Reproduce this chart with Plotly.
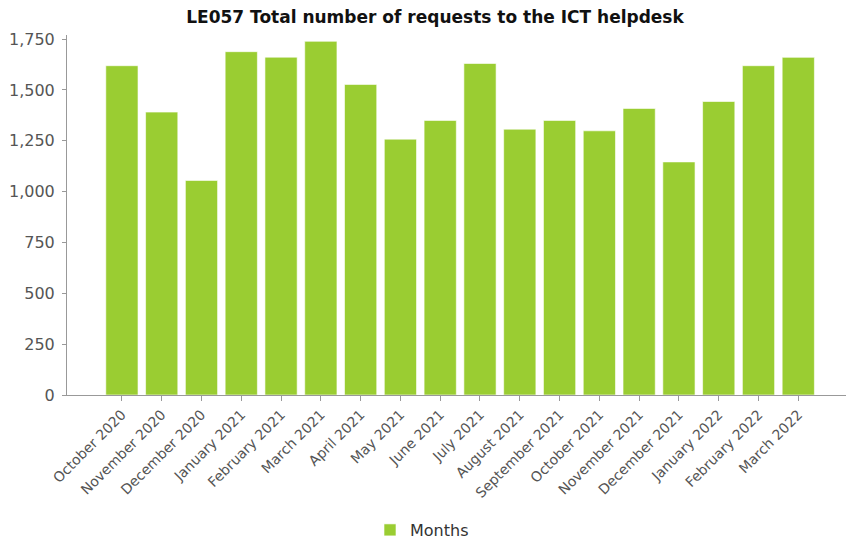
import plotly.graph_objects as go

months = ["October 2020", "November 2020", "December 2020", "January 2021",
          "February 2021", "March 2021", "April 2021", "May 2021", "June 2021",
          "July 2021", "August 2021", "September 2021", "October 2021",
          "November 2021", "December 2021", "January 2022", "February 2022",
          "March 2022"]
requests = [1619, 1391, 1055, 1688, 1661, 1739, 1527, 1258, 1350,
            1630, 1307, 1350, 1299, 1409, 1146, 1443, 1619, 1660]
y_ticks = [0, 250, 500, 750, 1000, 1250, 1500, 1750]

fig = go.Figure()
fig.add_trace(go.Bar(
    x=months, y=requests, name="Months",
    marker=dict(color="#9ACD32", line=dict(color="rgba(255,255,255,0.6)", width=1)),
    showlegend=True,
))

fig.update_layout(
    width=854, height=546,
    paper_bgcolor="white", plot_bgcolor="white",
    margin=dict(l=59, r=10, t=27, b=159, autoexpand=False),
    title=dict(text="<b>LE057 Total number of requests to the ICT helpdesk</b>",
               x=0.5, xanchor="center", y=1 - 9 / 546, yanchor="middle",
               font=dict(family="DejaVu Sans", size=17, color="#111")),
    font=dict(family="DejaVu Sans", size=14, color="#555"),
    bargap=0.19,
    showlegend=True,
    legend=dict(orientation="h", x=0.386, xanchor="left", y=-0.375, yanchor="middle",
                font=dict(size=16, color="#333"), itemwidth=30),
    xaxis=dict(range=[-1.38, 18.35], tickangle=-45, showline=True, linecolor="#999",
               linewidth=1, ticks="outside", ticklen=5, tickcolor="#999",
               showgrid=False, automargin=False, tickfont=dict(size=14, color="#555")),
    yaxis=dict(range=[0, 1770], tickvals=y_ticks, tickformat=",", showline=True,
               linecolor="#999", linewidth=1, ticks="outside", ticklen=4,
               tickcolor="#999", showgrid=False, zeroline=False, automargin=False,
               ticklabelstandoff=4, tickfont=dict(size=16, color="#555")),
)

fig.write_html("out.html")
